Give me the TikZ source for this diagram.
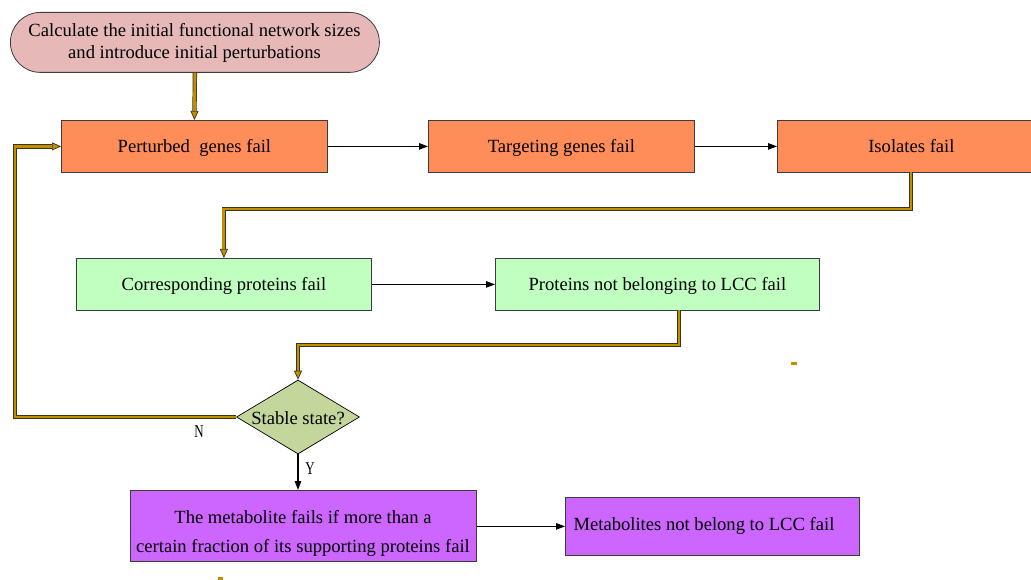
\documentclass[tikz,border=0pt]{standalone}
\usepackage{fontspec}
\usepackage{graphicx}
\setmainfont{Liberation Serif}
\usetikzlibrary{shapes.geometric,arrows.meta,calc}
\definecolor{pinkfill}{HTML}{E6B9B8}
\definecolor{orangefill}{HTML}{FF8D5A}
\definecolor{greenfill}{HTML}{C0FFC0}
\definecolor{diafill}{HTML}{C3D69B}
\definecolor{purplefill}{HTML}{CC66FF}
\definecolor{gold}{HTML}{BF8F00}
\definecolor{golddark}{HTML}{3A3320}
\definecolor{boxline}{HTML}{3C3C3C}
\begin{document}
\begin{tikzpicture}[x=1pt,y=-1pt,
  box/.style={draw=boxline, line width=0.8pt, inner sep=0pt, anchor=north west, align=center, font=\fontsize{18.6}{21}\selectfont, text height=16.5pt, text depth=4pt},
  orangebox/.style={box, fill=orangefill, minimum height=52pt},
  greenbox/.style={box, fill=greenfill, minimum height=52pt},
  purplebox/.style={box, fill=purplefill},
  txt/.style={font=\fontsize{18.6}{25}\selectfont, inner sep=0pt, align=center},
  blackarrow/.style={draw=black, line width=1.1pt, -{Triangle[length=9pt,width=6.5pt]}},
  goldarrow/.style={draw=golddark, line width=0.7pt, double=gold, double distance=2.9pt, line join=miter, -{Triangle[length=9pt,width=8pt,fill=gold]}},
  lbl/.style={font=\fontsize{18}{20}\selectfont, inner sep=0pt}
]
\useasboundingbox (0,0) rectangle (1031,580);

\node[box, fill=pinkfill, rounded corners=30pt, minimum width=369pt, minimum height=60pt] (start) at (10,12) {};
\node[txt, font=\fontsize{18.6}{21.5}\selectfont] (starttext) at (194.5,43)
  {Calculate the initial functional network sizes\\and introduce initial perturbations};

\node[orangebox, minimum width=266pt] (pert) at (61,120) {Perturbed\ \ genes fail};
\node[orangebox, minimum width=266pt] (targ) at (428,120) {Targeting genes fail};
\node[orangebox, minimum width=268pt] (iso) at (777,120) {Isolates fail};

\node[greenbox, minimum width=295pt] (corr) at (76,258) {Corresponding proteins fail};
\node[greenbox, minimum width=324pt] (prot) at (495,258) {Proteins not belonging to LCC fail};

\node[draw=black, line width=0.7pt, fill=diafill, diamond, minimum width=123pt, minimum height=74pt, inner sep=0pt] (dia) at (298,417) {};
\node[txt] (diatext) at (298,418) {Stable state?};

\node[purplebox, minimum width=346pt, minimum height=71pt] (met) at (130,490) {};
\node[txt, font=\fontsize{18.6}{29}\selectfont] (mettext) at (303,533.5)
  {The metabolite fails if more than a\\certain fraction of its supporting proteins fail};
\node[purplebox, minimum width=294pt, minimum height=58pt] (metlcc) at (565,497) {};
\node[txt] (metlcctext) at (704,526) {Metabolites not belong to LCC fail};

\node[lbl] (nlab) at (199,432) {\scalebox{0.72}[1]{N}};
\node[lbl] (ylab) at (310,469) {\scalebox{0.72}[1]{Y}};

\coordinate (isodrop) at (911,172);
\coordinate (protdrop) at (679,310);
\coordinate (loopx) at (15,0);

% black arrows
\draw[blackarrow] (pert.east) -- (targ.west);
\draw[blackarrow] (targ.east) -- (iso.west);
\draw[blackarrow] (corr.east) -- (prot.west);
\draw[blackarrow] (dia.south) -- (dia.south |- met.north);
\draw[blackarrow] (met.east |- metlcc.west) -- (metlcc.west);

% gold arrows
\draw[goldarrow] (start.south) -- (pert.north);
\draw[goldarrow] (isodrop) -- ++(0,37) -| (corr.north);
\draw[goldarrow] (protdrop) -- ++(0,35) -| (dia.north);
\draw[goldarrow] (dia.west) -- (dia.west -| loopx) |- (pert.west);

% small marks
\fill[gold] (791,362) rectangle (797,365);
\fill[gold] (218,577) rectangle (223,580);
\end{tikzpicture}
\end{document}
